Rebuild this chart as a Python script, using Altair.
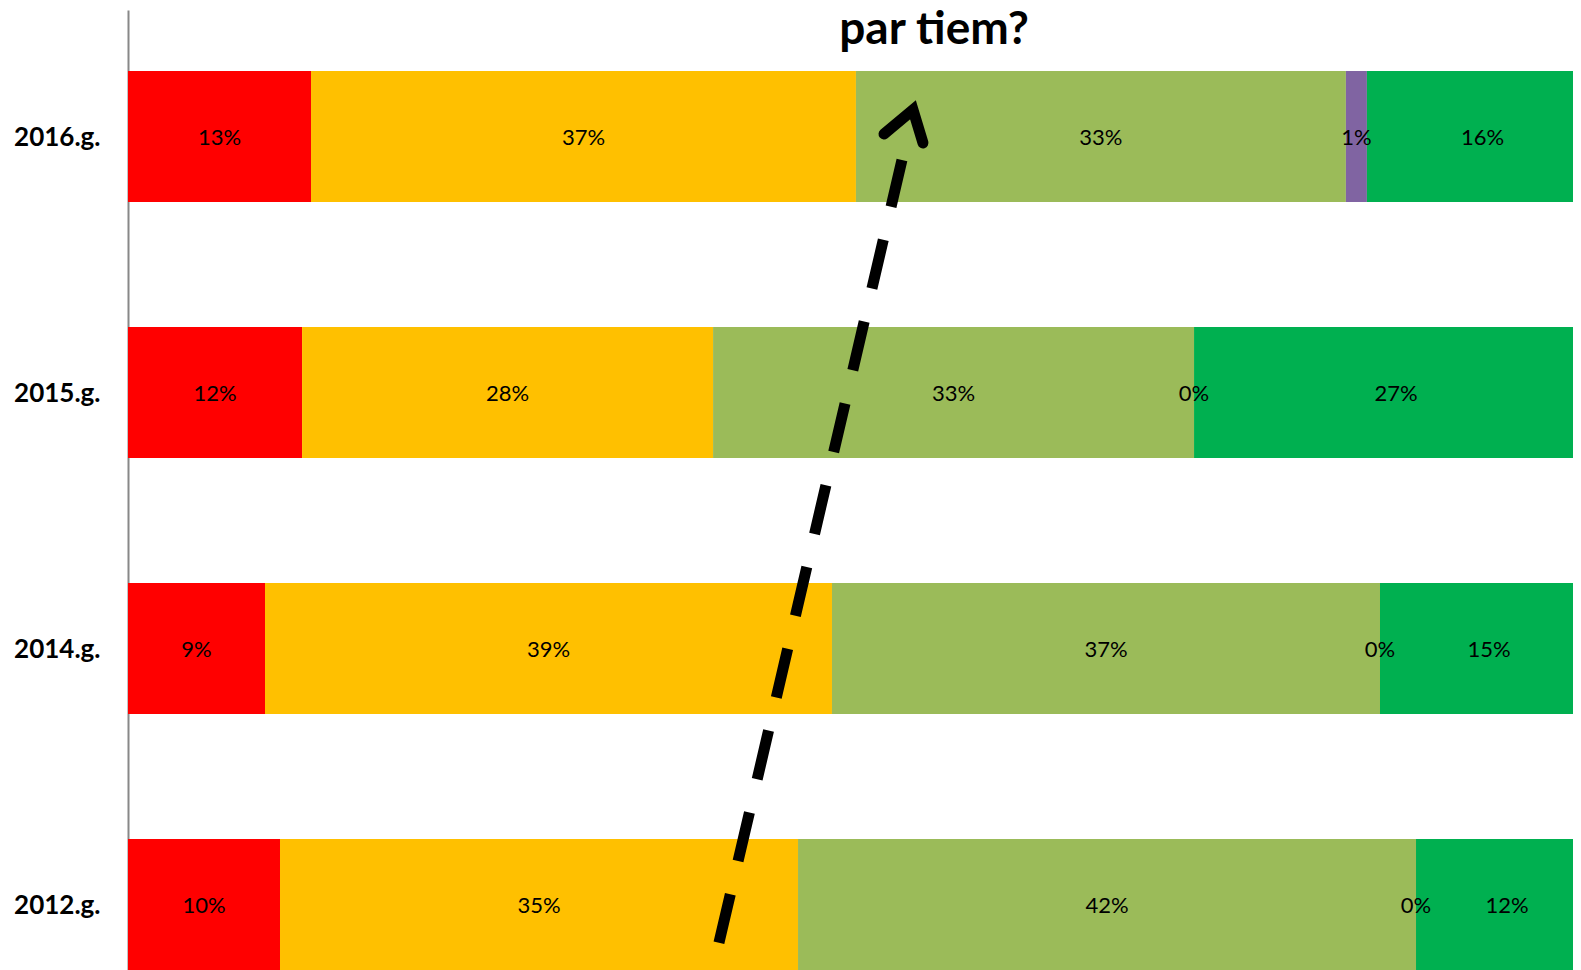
import altair as alt
import pandas as pd

years = ["2016.g.", "2015.g.", "2014.g.", "2012.g."]
series = ["s1", "s2", "s3", "s4", "s5"]
colors = ["#FF0000", "#FFC000", "#9BBB59", "#8064A2", "#00B050"]

v2016 = [12.45, 37.07, 33.33, 1.43, 15.72]
v2015 = [11.84, 27.96, 32.72, 0.0, 27.48]
v2014 = [9.32, 38.57, 37.28, 0.0, 14.83]
v2012 = [10.34, 35.24, 42.04, 0.0, 12.38]

l2016 = ["13%", "37%", "33%", "1%", "16%"]
l2015 = ["12%", "28%", "33%", "0%", "27%"]
l2014 = ["9%", "39%", "37%", "0%", "15%"]
l2012 = ["10%", "35%", "42%", "0%", "12%"]

title_text = "par tiem?"

# arrow annotation (x in % units, y in row units: 0 = 2016 row centre, 3 = 2012 row centre)
shaft_x = [40.2, 52.65]
shaft_y = [3.150, 0.092]
head_x = [51.43, 53.4, 54.08]
head_y = [-0.010, -0.104, 0.025]

rows = []
for yr, vals, labs in zip(years, [v2016, v2015, v2014, v2012], [l2016, l2015, l2014, l2012]):
    for k, (s, v, l) in enumerate(zip(series, vals, labs)):
        rows.append({"year": yr, "series": s, "k": k, "value": v, "label": l})
df = pd.DataFrame(rows)

W = 1445
H = 960
px_per_pct = 14.7
xdom = [0, W / px_per_pct]

yscale = alt.Scale(domain=years, paddingInner=0.488, paddingOuter=0.119, align=1)
xscale = alt.Scale(domain=xdom, nice=False, zero=False)

base = alt.Chart(df).transform_stack(
    stack="value", groupby=["year"], as_=["x0", "x1"], sort=[alt.SortField("k", order="ascending")]
).transform_calculate(mid="(datum.x0 + datum.x1) / 2")

bars = base.mark_bar(clip=True).encode(
    y=alt.Y("year:N", scale=yscale, sort=years,
            axis=alt.Axis(title=None, ticks=False, labelFont="Lato", labelFontWeight="bold",
                          labelFontSize=26, labelColor="black", labelPadding=28, labelOffset=2,
                          domainColor="#888888", domainWidth=2)),
    x=alt.X("x0:Q", scale=xscale, axis=None),
    x2="x1:Q",
    color=alt.Color("series:N", scale=alt.Scale(domain=series, range=colors), legend=None),
)

labels = base.mark_text(font="Lato", fontSize=22, color="black", align="center", baseline="middle", dy=2).encode(
    y=alt.Y("year:N", scale=yscale, sort=years),
    x=alt.X("mid:Q", scale=xscale, axis=None),
    text="label:N",
)

title = alt.Chart(pd.DataFrame({"t": [title_text]})).mark_text(
    font="Lato", fontWeight="bold", fontSize=46, color="black", align="center", baseline="alphabetic"
).encode(x=alt.value(806), y=alt.value(34), text="t:N")

ydom = [3.256, -0.494]
shaft = alt.Chart(pd.DataFrame({"ax": shaft_x, "ay": shaft_y, "o": [0, 1]})).mark_line(
    color="black", strokeWidth=11, strokeDash=[50, 34], strokeCap="butt"
).encode(
    x=alt.X("ax:Q", scale=xscale, axis=None),
    y=alt.Y("ay:Q", scale=alt.Scale(domain=ydom, nice=False, zero=False), axis=None),
    order="o:Q",
)
head = alt.Chart(pd.DataFrame({"ax": head_x, "ay": head_y, "o": [0, 1, 2]})).mark_line(
    color="black", strokeWidth=11, strokeCap="round", strokeJoin="miter"
).encode(
    x=alt.X("ax:Q", scale=xscale, axis=None),
    y=alt.Y("ay:Q", scale=alt.Scale(domain=ydom, nice=False, zero=False), axis=None),
    order="o:Q",
)

chart = alt.layer(alt.layer(bars, labels), shaft, head, title).resolve_scale(y="independent").properties(
    width=W, height=H,
    autosize=alt.AutoSizeParams(type="none"),
    padding={"left": 120, "top": 2, "right": 0, "bottom": 0},
    background="white",
).configure_view(stroke=None)

chart.save("out.html", embed_options={"renderer": "svg", "actions": False})
